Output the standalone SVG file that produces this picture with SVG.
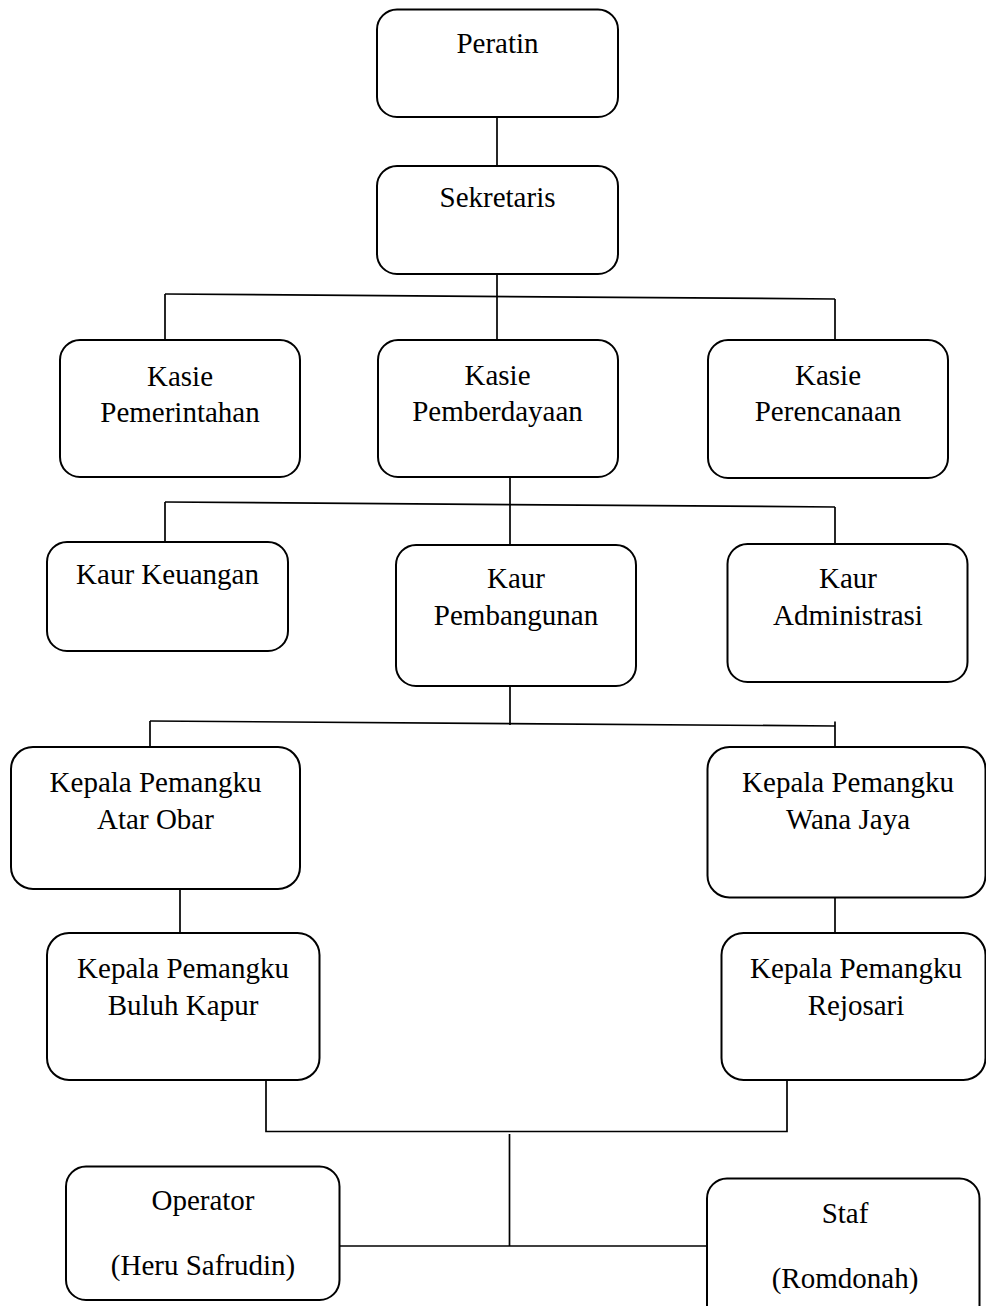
<svg xmlns="http://www.w3.org/2000/svg" width="986" height="1306" viewBox="0 0 986 1306">
<style>
.box{fill:#fff;stroke:#000;stroke-width:2}
.ln{fill:none;stroke:#000;stroke-width:1.7}
text{font-family:"Liberation Serif","Times New Roman",serif;font-size:29px;fill:#000;text-anchor:middle}
</style>
<rect width="986" height="1306" fill="#fff"/>
<g id="connectors">
<line class="ln" x1="497" y1="117" x2="497" y2="166"/>
<line class="ln" x1="497" y1="274" x2="497" y2="340"/>
<line class="ln" x1="165" y1="294" x2="835" y2="299"/>
<line class="ln" x1="165" y1="294" x2="165" y2="340"/>
<line class="ln" x1="835" y1="299" x2="835" y2="340"/>
<line class="ln" x1="510" y1="477" x2="510" y2="545"/>
<line class="ln" x1="165" y1="502" x2="835" y2="507"/>
<line class="ln" x1="165" y1="502" x2="165" y2="542"/>
<line class="ln" x1="835" y1="507" x2="835" y2="544"/>
<line class="ln" x1="510" y1="686" x2="510" y2="725"/>
<line class="ln" x1="150" y1="721" x2="835" y2="726"/>
<line class="ln" x1="150" y1="721" x2="150" y2="747"/>
<line class="ln" x1="835" y1="721.5" x2="835" y2="747"/>
<line class="ln" x1="180" y1="889" x2="180" y2="933"/>
<line class="ln" x1="835" y1="897" x2="835" y2="933"/>
<polyline class="ln" points="266,1080 266,1131.5 787,1131.5 787,1080"/>
<line class="ln" x1="509.5" y1="1134" x2="509.5" y2="1246"/>
<line class="ln" x1="340" y1="1246" x2="707" y2="1246"/>
</g>
<g id="peratin">
<rect class="box" x="377" y="9.5" width="241" height="107.5" rx="20"/>
<text x="497.5" y="52.5">Peratin</text>
</g>
<g id="sekretaris">
<rect class="box" x="377" y="166" width="241" height="108" rx="20"/>
<text x="497.5" y="207">Sekretaris</text>
</g>
<g id="kasie-pemerintahan">
<rect class="box" x="60" y="340" width="240" height="137" rx="20"/>
<text x="180" y="386">Kasie</text>
<text x="180" y="422">Pemerintahan</text>
</g>
<g id="kasie-pemberdayaan">
<rect class="box" x="378" y="340" width="240" height="137" rx="20"/>
<text x="497.5" y="385">Kasie</text>
<text x="497.5" y="421">Pemberdayaan</text>
</g>
<g id="kasie-perencanaan">
<rect class="box" x="708" y="340" width="240" height="138" rx="20"/>
<text x="828" y="385">Kasie</text>
<text x="828" y="421">Perencanaan</text>
</g>
<g id="kaur-keuangan">
<rect class="box" x="47" y="542" width="241" height="109" rx="20"/>
<text x="167.5" y="584">Kaur Keuangan</text>
</g>
<g id="kaur-pembangunan">
<rect class="box" x="396" y="545" width="240" height="141" rx="20"/>
<text x="516" y="588">Kaur</text>
<text x="516" y="625">Pembangunan</text>
</g>
<g id="kaur-administrasi">
<rect class="box" x="727.5" y="544" width="240" height="138" rx="20"/>
<text x="848" y="588">Kaur</text>
<text x="848" y="625">Administrasi</text>
</g>
<g id="pemangku-atar-obar">
<rect class="box" x="11" y="747" width="289" height="142" rx="22"/>
<text x="155.5" y="792">Kepala Pemangku</text>
<text x="155.5" y="828.5">Atar Obar</text>
</g>
<g id="pemangku-wana-jaya">
<rect class="box" x="707.5" y="747" width="278" height="150.5" rx="22"/>
<text x="848" y="792">Kepala Pemangku</text>
<text x="848" y="828.5">Wana Jaya</text>
</g>
<g id="pemangku-buluh-kapur">
<rect class="box" x="47" y="933" width="272.5" height="147" rx="22"/>
<text x="183" y="978">Kepala Pemangku</text>
<text x="183" y="1015">Buluh Kapur</text>
</g>
<g id="pemangku-rejosari">
<rect class="box" x="721.5" y="933" width="264" height="147" rx="22"/>
<text x="856" y="978">Kepala Pemangku</text>
<text x="856" y="1015">Rejosari</text>
</g>
<g id="operator">
<rect class="box" x="66" y="1166.5" width="273.5" height="133.5" rx="20"/>
<text x="203" y="1210">Operator</text>
<text x="203" y="1275">(Heru Safrudin)</text>
</g>
<g id="staf">
<rect class="box" x="707" y="1178.5" width="272.5" height="150" rx="20"/>
<text x="845" y="1223">Staf</text>
<text x="845" y="1288">(Romdonah)</text>
</g>
</svg>
